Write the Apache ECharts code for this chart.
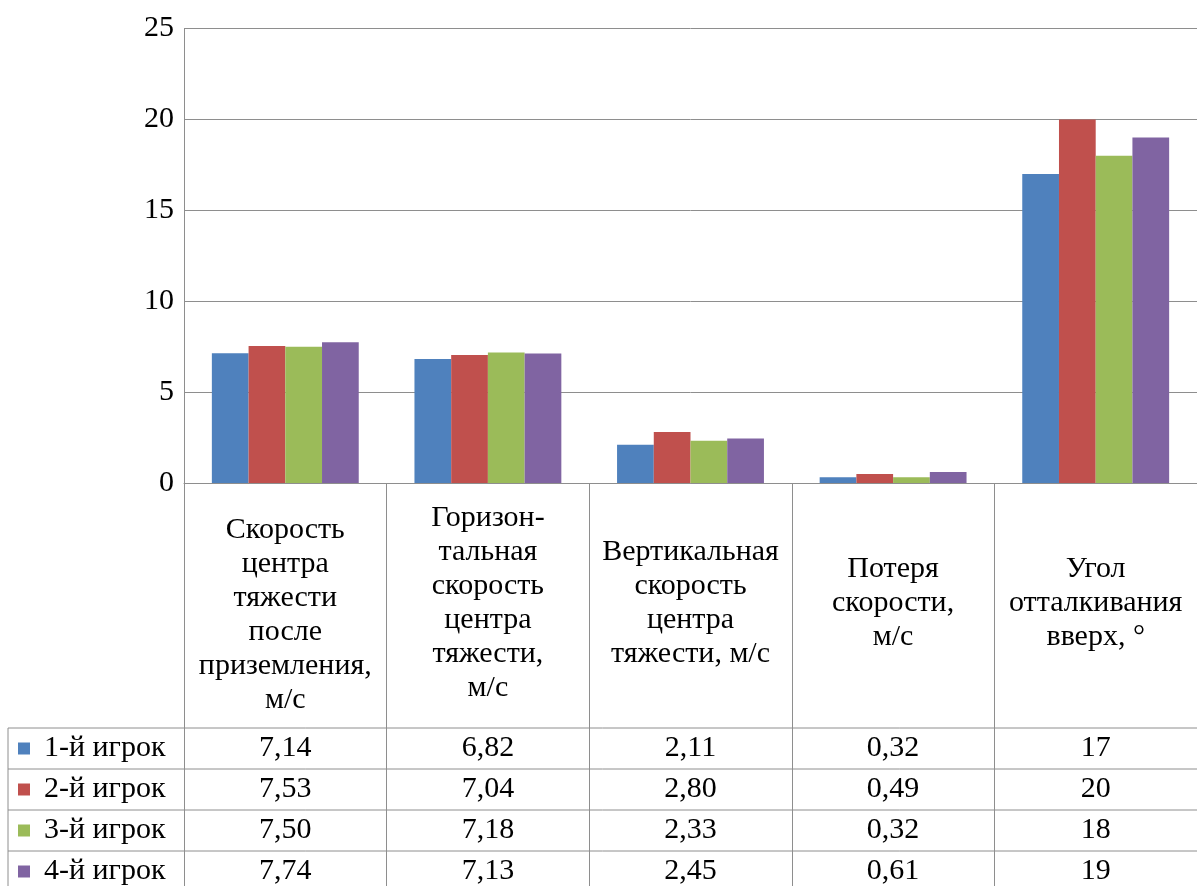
<!DOCTYPE html>
<html>
<head>
<meta charset="utf-8">
<title>Показатели приземления игроков</title>
<script src="https://cdn.jsdelivr.net/npm/echarts@6/dist/echarts.min.js"></script>
<style>
  html, body { margin: 0; padding: 0; background: #ffffff; }
  #chart { width: 1197px; height: 886px; }
</style>
</head>
<body>
<div id="chart"></div>
<script>
// Categories (multi-line axis captions)
const categories = [
  'Скорость\nцентра\nтяжести\nпосле\nприземления,\nм/с',
  'Горизон-\nтальная\nскорость\nцентра\nтяжести,\nм/с',
  'Вертикальная\nскорость\nцентра\nтяжести, м/с',
  'Потеря\nскорости,\nм/с',
  'Угол\nотталкивания\nвверх, °'
];

// Series names
const players = ['1-й игрок', '2-й игрок', '3-й игрок', '4-й игрок'];

// Values per player, one per category
const player1 = [7.14, 6.82, 2.11, 0.32, 17];
const player2 = [7.53, 7.04, 2.80, 0.49, 20];
const player3 = [7.50, 7.18, 2.33, 0.32, 18];
const player4 = [7.74, 7.13, 2.45, 0.61, 19];

// Decimal places shown in the data table for each category
const decimals = [2, 2, 2, 2, 0];

// Value axis range
const yMin = 0;
const yMax = 25;
const yStep = 5;

const seriesValues = [player1, player2, player3, player4];
const colors = ['#4F81BD', '#C0504D', '#9BBB59', '#8064A2'];

const FONT = '"Liberation Serif", "Times New Roman", serif';
const FONT_SIZE = 30;
const GRID_COLOR = '#8e8e8e';

// Layout
const GRID_LEFT = 184;
const GRID_TOP = 28.5;
const GRID_H = 455;
const CAT_W = 204;
const AXIS_Y = GRID_TOP + GRID_H;
const ROW_TOP = 728;
const ROW_H = 41;
const CAPTION_MID = 604;

function fmt(v, d) {
  return v.toFixed(d).replace('.', ',');
}

// One hidden-line category axis per table row, carrying the formatted values
const tableAxes = seriesValues.map(function (vals, i) {
  return {
    type: 'category',
    gridIndex: 0,
    position: 'bottom',
    data: categories,
    offset: ROW_TOP + ROW_H * (i + 0.5) - AXIS_Y,
    axisLine: { show: false },
    axisTick: { show: false },
    splitLine: { show: false },
    axisLabel: {
      interval: 0,
      margin: 0,
      verticalAlign: 'middle',
      fontFamily: FONT,
      fontSize: FONT_SIZE,
      color: '#000',
      formatter: function (value, idx) { return fmt(vals[idx], decimals[idx]); }
    }
  };
});

// Table grid lines (row separators and left border)
const tableLines = [];
for (let k = 0; k < 4; k++) {
  const y = ROW_TOP + k * ROW_H;
  tableLines.push({
    type: 'line',
    shape: { x1: 8, y1: y, x2: 1197, y2: y },
    style: { stroke: GRID_COLOR, lineWidth: 1 },
    z: 10
  });
}
tableLines.push({
  type: 'line',
  shape: { x1: 8, y1: ROW_TOP, x2: 8, y2: 900 },
  style: { stroke: GRID_COLOR, lineWidth: 1 },
  z: 10
});

const chart = echarts.init(document.getElementById('chart'), null, { renderer: 'canvas' });

chart.setOption({
  animation: false,
  backgroundColor: '#ffffff',
  color: colors,
  grid: {
    left: GRID_LEFT,
    top: GRID_TOP,
    width: CAT_W * categories.length,
    height: GRID_H,
    containLabel: false
  },
  legend: {
    data: players,
    orient: 'vertical',
    left: 18,
    top: ROW_TOP + ROW_H / 2 - 15,
    height: 200,
    padding: 0,
    itemGap: ROW_H - 30,
    itemWidth: 12,
    itemHeight: 12,
    icon: 'rect',
    selectedMode: false,
    textStyle: {
      fontFamily: FONT,
      fontSize: FONT_SIZE,
      lineHeight: 30,
      color: '#000',
      padding: [0, 0, 0, 9]
    }
  },
  xAxis: [
    {
      type: 'category',
      data: categories,
      boundaryGap: true,
      axisLine: { show: true, lineStyle: { color: GRID_COLOR, width: 1 } },
      axisTick: {
        show: true,
        interval: 0,
        length: 420,
        lineStyle: { color: GRID_COLOR, width: 1 }
      },
      axisLabel: {
        interval: 0,
        margin: CAPTION_MID - AXIS_Y,
        verticalAlign: 'middle',
        align: 'center',
        fontFamily: FONT,
        fontSize: FONT_SIZE,
        lineHeight: 34,
        color: '#000',
        // the first caption sits a little lower in its cell
        formatter: function (value, idx) {
          return idx === 0 ? '{gap| }\n' + value : value;
        },
        rich: {
          gap: { lineHeight: 24, fontSize: 10 }
        }
      },
      splitLine: { show: false }
    }
  ].concat(tableAxes),
  yAxis: {
    type: 'value',
    min: yMin,
    max: yMax,
    interval: yStep,
    axisLine: { show: true, lineStyle: { color: GRID_COLOR, width: 1 } },
    axisTick: { show: false },
    axisLabel: {
      margin: 10,
      fontFamily: FONT,
      fontSize: FONT_SIZE,
      color: '#000'
    },
    splitLine: { show: true, lineStyle: { color: GRID_COLOR, width: 1 } }
  },
  series: players.map(function (name, i) {
    return {
      name: name,
      type: 'bar',
      xAxisIndex: 0,
      yAxisIndex: 0,
      data: seriesValues[i],
      barGap: '0%',
      barCategoryGap: '27.5%',
      itemStyle: { color: colors[i] }
    };
  }),
  graphic: tableLines
});
</script>
</body>
</html>
